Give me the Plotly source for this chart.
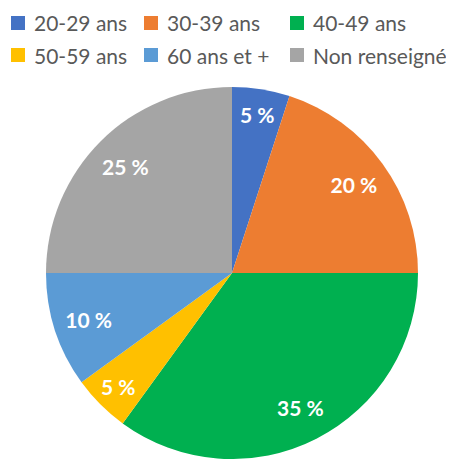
import plotly.graph_objects as go

labels = ["20-29 ans", "30-39 ans", "40-49 ans", "50-59 ans", "60 ans et +", "Non renseigné"]
values = [5, 20, 35, 5, 10, 25]
colors = ["#4472C4", "#ED7D31", "#00B050", "#FFC000", "#5B9BD5", "#A5A5A5"]

# the page body adds an 8px margin, so the figure is drawn 8px smaller
W, H = 446, 451
cx, cy, r = 224, 265, 186
dom = dict(x=[(cx - r) / W, (cx + r) / W], y=[(H - cy - r) / H, (H - cy + r) / H])

fig = go.Figure()
fig.add_trace(go.Pie(
    labels=labels, values=values, sort=False, direction="clockwise", rotation=0,
    marker=dict(colors=colors, line=dict(width=0)),
    textinfo="none", domain=dom, hoverinfo="label+percent", showlegend=False,
))
# transparent ring used only to place the data labels toward the outer edge
fig.add_trace(go.Pie(
    labels=labels, values=values, sort=False, direction="clockwise", rotation=0,
    hole=0.62, showlegend=False,
    marker=dict(colors=["rgba(0,0,0,0)"] * len(values), line=dict(width=0)),
    texttemplate="%{value} %", textposition="inside", insidetextorientation="horizontal",
    textfont=dict(family="Lato", size=21, color="white", weight="bold"),
    domain=dom, hoverinfo="skip",
))

# legend in three columns / two rows (column widths follow the label lengths)
col_sq = [10, 143, 289]      # square centre x (px)
row_y = [15, 47]             # row centre y (px)
sq = 14
shapes, annots = [], []
for i, (lab, col) in enumerate(zip(labels, colors)):
    c, rw = i % 3, i // 3
    x0, y0 = col_sq[c], row_y[rw]
    shapes.append(dict(type="rect", xref="paper", yref="paper",
                       x0=(x0 - sq / 2) / W, x1=(x0 + sq / 2) / W,
                       y0=1 - (y0 + sq / 2) / H, y1=1 - (y0 - sq / 2) / H,
                       fillcolor=col, line=dict(width=0)))
    annots.append(dict(text=lab, xref="paper", yref="paper",
                       x=(x0 + 14) / W, y=1 - y0 / H, xanchor="left", yanchor="middle",
                       showarrow=False,
                       font=dict(family="Lato", size=21, color="#595959")))

fig.update_layout(
    width=W, height=H, margin=dict(l=0, r=0, t=0, b=0, autoexpand=False),
    paper_bgcolor="white", shapes=shapes, annotations=annots,
)
fig.write_html("out.html")
